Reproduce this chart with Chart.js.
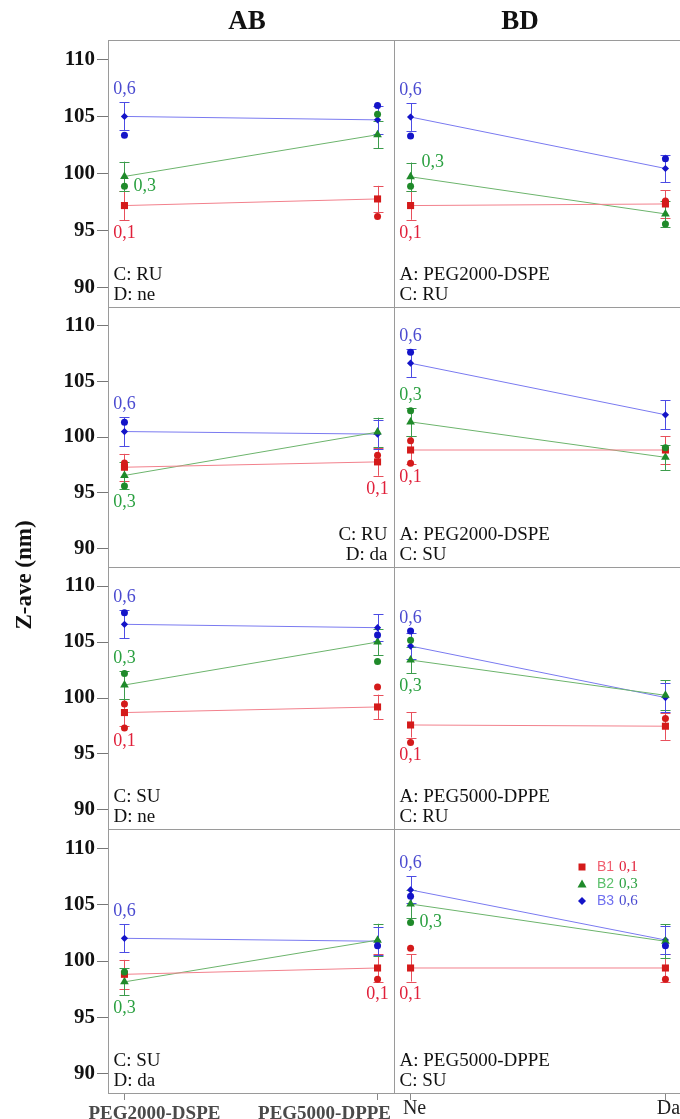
<!DOCTYPE html>
<html><head><meta charset="utf-8">
<script src="https://cdn.jsdelivr.net/npm/chart.js@4.4.1/dist/chart.umd.min.js"></script>
<style>
html,body{margin:0;padding:0;background:#fff;overflow:hidden;width:680px;height:1119px}
#wrap{position:relative;width:682px;height:1119px}
canvas{display:block}
</style></head>
<body><div id="wrap"><canvas id="c" width="682" height="1119" style="width:682px;height:1119px"></canvas></div>
<script>
// ---------- data ----------
const colTitles = ['AB', 'BD'];
const yAxisTitle = 'Z-ave (nm)';
const xLabelsAB = ['PEG2000-DSPE', 'PEG5000-DPPE'];
const xLabelsBD = ['Ne', 'Da'];
const yTicks = [90, 95, 100, 105, 110];
const seriesNames = ['B1', 'B2', 'B3'];
const seriesLevels = ['0,1', '0,3', '0,6'];
const panelNotes = [
  ['C: RU', 'D: ne'], ['A: PEG2000-DSPE', 'C: RU'],
  ['C: RU', 'D: da'], ['A: PEG2000-DSPE', 'C: SU'],
  ['C: SU', 'D: ne'], ['A: PEG5000-DPPE', 'C: RU'],
  ['C: SU', 'D: da'], ['A: PEG5000-DPPE', 'C: SU']
];
// means per panel (row-major), [left level, right level]
const meanB1 = [[97.19,97.77],[97.19,97.33],[97.28,97.76],[98.83,98.83],[98.7,99.2],[97.59,97.48],[98.82,99.38],[99.38,99.38]];
const meanB2 = [[99.74,103.4],[99.71,96.46],[96.54,100.44],[101.36,98.17],[101.16,105.0],[103.39,100.24],[98.15,101.85],[105.05,101.75]];
const meanB3 = [[105.0,104.7],[104.95,100.44],[100.49,100.26],[106.64,102.0],[106.58,106.28],[104.64,100.04],[102.01,101.75],[106.3,101.86]];
// error bar half widths
const ciB1 = [[1.3,1.15],[1.25,1.2],[1.2,1.25],[1.25,1.25],[1.2,1.1],[1.12,1.22],[1.28,1.2],[1.2,1.2]];
const ciB2 = [[1.3,1.2],[1.25,1.15],[1.25,1.3],[1.27,1.15],[1.25,1.2],[1.2,1.35],[1.2,1.45],[1.25,1.5]];
const ciB3 = [[1.23,1.25],[1.22,1.2],[1.3,1.3],[1.25,1.3],[1.25,1.2],[1.2,1.3],[1.25,1.25],[1.2,1.2]];
// raw observations [level index, value]
const rawB1 = [[[1,96.24]],[[1,97.6]],[[0,97.67],[1,98.35]],[[0,99.66],[0,97.64]],[[0,99.46],[0,97.32],[1,100.98]],[[0,96.02],[1,98.16]],[[1,98.38]],[[0,101.13],[1,98.38]]];
const rawB2 = [[[0,98.88],[1,105.2]],[[0,98.88],[1,95.58]],[[0,95.59]],[[0,102.36],[1,99.04]],[[0,102.18],[1,103.25]],[[0,105.15]],[[0,99.03]],[[0,103.41]]];
const rawB3 = [[[0,103.35],[1,105.95]],[[0,103.28],[1,101.29]],[[0,101.33]],[[0,107.62]],[[0,107.62],[1,105.63]],[[0,105.98]],[[1,101.36]],[[0,105.75],[1,101.36]]];

// ---------- layout / style ----------
const levelLabelPlace = [
  [{x:0,pos:'below'},{x:0,pos:'right'},{x:0,pos:'above'}],
  [{x:0,pos:'below'},{x:0,pos:'rightTop'},{x:0,pos:'above'}],
  [{x:1,pos:'below'},{x:0,pos:'below'},{x:0,pos:'above'}],
  [{x:0,pos:'below'},{x:0,pos:'above'},{x:0,pos:'above'}],
  [{x:0,pos:'below'},{x:0,pos:'above'},{x:0,pos:'above'}],
  [{x:0,pos:'below'},{x:0,pos:'below'},{x:0,pos:'above'}],
  [{x:1,pos:'below'},{x:0,pos:'below'},{x:0,pos:'above'}],
  [{x:0,pos:'below'},{x:0,pos:'right'},{x:0,pos:'above'}]
];
const notesAlign = ['left','left','right','left','left','left','left','left'];
const legendPanel = 7;
const xLabelStyle = [
  {font: 'bold 19px ', color: '#4a4a4a', dx: [30, -53], baseline: 1119},
  {font: '20px ', color: '#222', dx: [4, 3], baseline: 1114}
];
const ST = {
  marker: ['#d41a1a', '#1f8a2a', '#1414c8'],
  line: ['#f2808c', '#6cb46c', '#7a7af0'],
  err: ['#e8505c', '#3c9c4c', '#4c4ce4'],
  label: ['#e0203a', '#2aa040', '#4a4ad0'],
  legendName: ['#f06070', '#5cc06c', '#7070f0'],
  pointStyle: ['rect', 'triangle', 'rectRot'],
  pointRadius: [5, 5, 3.6]
};
const SERIF = "'Liberation Serif','DejaVu Serif',serif";
const means = [meanB1, meanB2, meanB3];
const cis = [ciB1, ciB2, ciB3];
const raws = [rawB1, rawB2, rawB3];
const rowWeights = [267, 260, 262, 264];
const colWeights = [286, 288];

// ---------- datasets ----------
const datasets = [];
for (let p = 0; p < 8; p++) {
  const r = Math.floor(p / 2), c = p % 2;
  for (let s = 0; s < 3; s++) {
    datasets.push({
      type: 'scatter', xAxisID: 'x' + c, yAxisID: 'y' + r,
      data: raws[s][p].map(([x, y]) => ({x, y})),
      pointRadius: 3.5, pointBackgroundColor: ST.marker[s], pointBorderWidth: 0, showLine: false
    });
  }
  for (let s = 0; s < 3; s++) {
    datasets.push({
      type: 'line', xAxisID: 'x' + c, yAxisID: 'y' + r,
      data: [{x: 0, y: means[s][p][0]}, {x: 1, y: means[s][p][1]}],
      borderColor: ST.line[s], borderWidth: 1, tension: 0, fill: false,
      pointStyle: ST.pointStyle[s], pointRadius: ST.pointRadius[s],
      pointBackgroundColor: ST.marker[s], pointBorderColor: ST.marker[s], pointBorderWidth: 0
    });
  }
}

// ---------- scales ----------
const scales = {};
for (let r = 0; r < 4; r++) {
  scales['y' + r] = {
    type: 'linear', position: 'left', stack: 'rows', stackWeight: rowWeights[r], weight: 4 - r,
    min: 88.3, max: 111.7,
    afterBuildTicks: s => { s.ticks = yTicks.map(v => ({value: v})); },
    afterFit: s => { s.width = 108; s.paddingTop = 0; s.paddingBottom = 0; s.paddingLeft = 0; s.paddingRight = 0; },
    grid: {drawOnChartArea: false, tickLength: 11, color: '#777', lineWidth: 1},
    border: {display: false},
    ticks: {font: {family: SERIF, size: 21, weight: 'bold'}, color: '#111', padding: 2}
  };
}
[xLabelsAB, xLabelsBD].forEach((labels, c) => {
  scales['x' + c] = {
    type: 'linear', position: 'bottom', stack: 'cols', stackWeight: colWeights[c], weight: c + 1,
    min: -0.065, max: 1.065,
    afterBuildTicks: s => { s.ticks = [{value: 0}, {value: 1}]; },
    afterFit: s => { s.height = 26; s.paddingLeft = 0; s.paddingRight = 0; s.paddingTop = 0; s.paddingBottom = 0; },
    grid: {drawOnChartArea: false, tickLength: 7, color: '#888', lineWidth: 1},
    border: {display: false},
    ticks: {display: false, callback: (v, i) => labels[i], autoSkip: false, maxRotation: 0}
  };
});

// ---------- drawing plugin ----------
function pix(chart, p, lvl, val) {
  const r = Math.floor(p / 2), c = p % 2;
  return [chart.scales['x' + c].getPixelForValue(lvl), chart.scales['y' + r].getPixelForValue(val)];
}
const overlay = {
  id: 'overlay',
  beforeDatasetsDraw(chart) {
    const ctx = chart.ctx;
    ctx.save();
    ctx.strokeStyle = '#9a9a9a'; ctx.lineWidth = 1;
    for (let p = 0; p < 8; p++) {
      const xs = chart.scales['x' + (p % 2)], ys = chart.scales['y' + Math.floor(p / 2)];
      ctx.strokeRect(Math.round(xs.left) + 0.5, Math.round(ys.top) + 0.5,
        Math.round(xs.right) - Math.round(xs.left), Math.round(ys.bottom) - Math.round(ys.top));
    }
    for (let p = 0; p < 8; p++) {
      for (let s = 0; s < 3; s++) {
        for (let l = 0; l < 2; l++) {
          const m = means[s][p][l], h = cis[s][p][l];
          const [x, yHi] = pix(chart, p, l, m + h);
          const [, yLo] = pix(chart, p, l, m - h);
          ctx.strokeStyle = ST.err[s]; ctx.lineWidth = 1;
          ctx.beginPath();
          const xx = Math.round(x) + 0.5;
          ctx.moveTo(xx, yHi); ctx.lineTo(xx, yLo);
          ctx.moveTo(xx - 5, Math.round(yHi) + 0.5); ctx.lineTo(xx + 5, Math.round(yHi) + 0.5);
          ctx.moveTo(xx - 5, Math.round(yLo) + 0.5); ctx.lineTo(xx + 5, Math.round(yLo) + 0.5);
          ctx.stroke();
        }
      }
    }
    ctx.restore();
  },
  afterDatasetsDraw(chart) {
    const ctx = chart.ctx;
    ctx.save();
    // level labels
    ctx.font = '18px ' + SERIF;
    for (let p = 0; p < 8; p++) {
      for (let s = 0; s < 3; s++) {
        const pl = levelLabelPlace[p][s];
        const l = pl.x, m = means[s][p][l], h = cis[s][p][l];
        const rv = raws[s][p].filter(d => d[0] === l).map(d => d[1]);
        ctx.fillStyle = ST.label[s];
        ctx.textBaseline = 'middle';
        let x, y;
        if (pl.pos === 'above') {
          [x, y] = pix(chart, p, l, Math.max(m + h, ...rv));
          ctx.textAlign = 'center'; y -= 13;
        } else if (pl.pos === 'below') {
          [x, y] = pix(chart, p, l, Math.min(m - h, ...rv));
          ctx.textAlign = 'center'; y += 13;
        } else if (pl.pos === 'right') {
          [x, y] = pix(chart, p, l, rv.length ? Math.min(...rv) : m);
          ctx.textAlign = 'left'; x += 9;
        } else {
          [x, y] = pix(chart, p, l, m + h);
          ctx.textAlign = 'left'; x += 11;
        }
        ctx.fillText(seriesLevels[s], x, y);
      }
    }
    // panel notes
    ctx.font = '19px ' + SERIF; ctx.fillStyle = '#111'; ctx.textBaseline = 'alphabetic';
    for (let p = 0; p < 8; p++) {
      const xs = chart.scales['x' + (p % 2)], ys = chart.scales['y' + Math.floor(p / 2)];
      const right = notesAlign[p] === 'right';
      ctx.textAlign = right ? 'right' : 'left';
      const x = right ? xs.right - 6.5 : xs.left + 5.5;
      ctx.fillText(panelNotes[p][0], x, ys.bottom - 27);
      ctx.fillText(panelNotes[p][1], x, ys.bottom - 7);
    }
    // x tick labels, placed from the x scales' tick positions
    [xLabelsAB, xLabelsBD].forEach((labels, c) => {
      const xs = chart.scales['x' + c], st = xLabelStyle[c];
      ctx.font = st.font + SERIF; ctx.fillStyle = st.color;
      ctx.textAlign = 'center'; ctx.textBaseline = 'alphabetic';
      xs.ticks.forEach((t, i) => {
        ctx.fillText(labels[i], xs.getPixelForValue(t.value) + st.dx[i], st.baseline);
      });
    });
    // legend inside last panel
    {
      const xs = chart.scales['x' + (legendPanel % 2)], ys = chart.scales['y' + Math.floor(legendPanel / 2)];
      const lx = xs.left + 188, ly = ys.top + 38;
      for (let s = 0; s < 3; s++) {
        const y = ly + s * 17;
        ctx.fillStyle = ST.marker[s];
        ctx.beginPath();
        if (s === 0) ctx.rect(lx - 3.5, y - 3.5, 7, 7);
        else if (s === 1) { ctx.moveTo(lx, y - 4.5); ctx.lineTo(lx + 4.5, y + 3.5); ctx.lineTo(lx - 4.5, y + 3.5); ctx.closePath(); }
        else { ctx.moveTo(lx, y - 4); ctx.lineTo(lx + 4, y); ctx.lineTo(lx, y + 4); ctx.lineTo(lx - 4, y); ctx.closePath(); }
        ctx.fill();
        ctx.textAlign = 'left'; ctx.textBaseline = 'middle';
        ctx.font = '14px "Liberation Sans", Arial, sans-serif';
        ctx.fillStyle = ST.legendName[s];
        ctx.fillText(seriesNames[s], lx + 15, y);
        ctx.font = '15px ' + SERIF;
        ctx.fillStyle = ST.label[s];
        ctx.fillText(seriesLevels[s], lx + 37, y);
      }
    }
    // column titles
    ctx.font = 'bold 27px ' + SERIF; ctx.fillStyle = '#111'; ctx.textAlign = 'center'; ctx.textBaseline = 'middle';
    const titleShift = [-4, -18];
    for (let c = 0; c < 2; c++) {
      const xs = chart.scales['x' + c];
      ctx.fillText(colTitles[c], (xs.left + xs.right) / 2 + titleShift[c], 22);
    }
    // y axis title
    ctx.save();
    ctx.translate(25, 575); ctx.rotate(-Math.PI / 2);
    ctx.font = 'bold 23px ' + SERIF;
    ctx.fillText(yAxisTitle, 0, 0);
    ctx.restore();
    ctx.restore();
  }
};

new Chart(document.getElementById('c'), {
  type: 'line',
  data: {datasets},
  options: {
    responsive: false, animation: false, devicePixelRatio: 1, events: [],
    layout: {autoPadding: false, padding: {top: 40, left: 0, right: 0, bottom: 0}},
    plugins: {legend: {display: false}, tooltip: {enabled: false}},
    scales
  },
  plugins: [overlay]
});
</script>
</body></html>
